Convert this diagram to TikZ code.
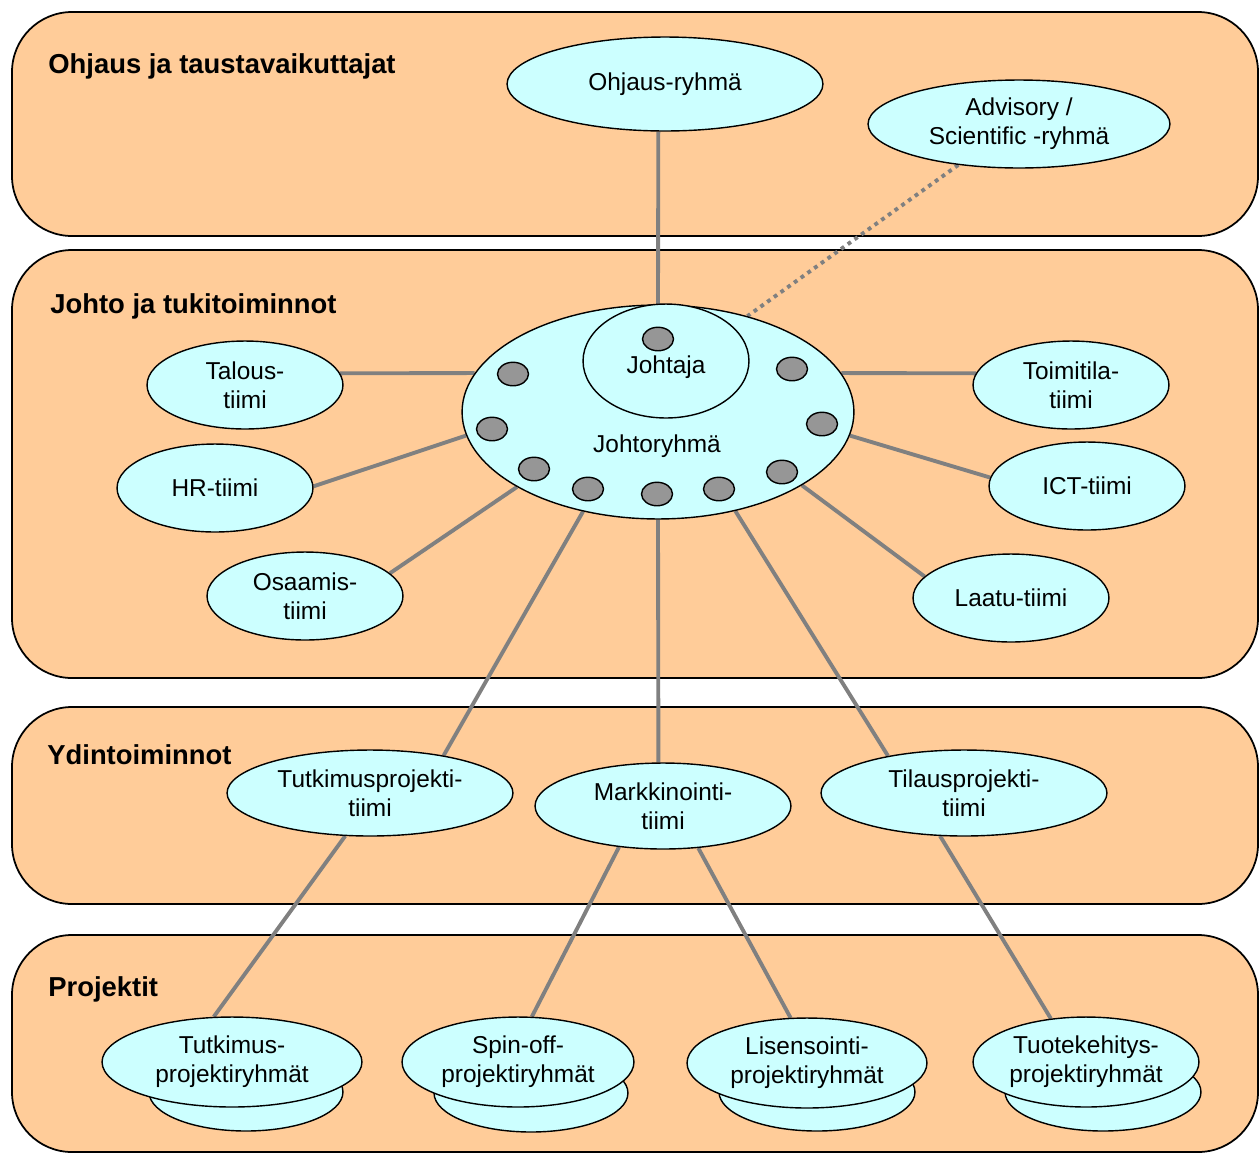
\documentclass[tikz,border=0pt]{standalone}
\usepackage{fontspec}
\setmainfont{Liberation Sans}
\usetikzlibrary{shapes.geometric}
\pgfdeclarelayer{bands}
\pgfdeclarelayer{links}
\pgfsetlayers{bands,links,main}
\definecolor{bandfill}{HTML}{FFCC99}
\definecolor{ovalfill}{HTML}{CCFFFF}
\definecolor{dotfill}{HTML}{969696}
\definecolor{linkgray}{HTML}{808080}
\newcommand{\bodysize}{\fontsize{13.9pt}{16.4pt}\selectfont}
\newcommand{\headsize}{\fontsize{15.6pt}{18pt}\selectfont\bfseries}

\begin{document}
\begin{tikzpicture}[x=0.02cm, y=-0.02cm,
  band/.style={draw=black, line width=1pt, fill=bandfill, rounded corners=1.2cm},
  heading/.style={anchor=base west, inner sep=0pt, font=\headsize},
  oval/.style 2 args={ellipse, draw=black, line width=0.8pt, fill=ovalfill,
    minimum width={#1*0.04cm}, minimum height={#2*0.04cm}, inner sep=0pt,
    align=center, font=\bodysize},
  member/.style={ellipse, draw=black, line width=0.8pt, fill=dotfill,
    minimum width=0.62cm, minimum height=0.47cm, inner sep=0pt},
  caption/.style={inner sep=0pt, font=\bodysize},
  link/.style={draw=linkgray, line width=2.2pt},
  dottedlink/.style={link, dash pattern=on 2.2pt off 2.5pt}]

\useasboundingbox (0,0) rectangle (1260,1154);

% the four layers of the organisation
\begin{pgfonlayer}{bands}
  \draw[band] (12,12)  rectangle (1258,236);
  \draw[band] (12,250) rectangle (1258,678);
  \draw[band] (12,707) rectangle (1258,904);
  \draw[band] (12,935) rectangle (1258,1152);
\end{pgfonlayer}

\node[heading] (h1) at (48,73)  {Ohjaus ja taustavaikuttajat};
\node[heading] (h2) at (50,313) {Johto ja tukitoiminnot};
\node[heading] (h3) at (47,764) {Ydintoiminnot};
\node[heading] (h4) at (48,996) {Projektit};

% steering
\node[oval={158}{47}] (ohj) at (665,84)  {Ohjaus-ryhmä};
\node[oval={151}{44}] (adv) at (1019,124) {Advisory /\\Scientific -ryhmä};

% management group with its members
\node[oval={196}{107}] (jr) at (658,412) {};
\node[oval={83}{57}]   (jt) at (666,361) {};
\node[caption] (jtlabel) at (666,367) {Johtaja};
\node[caption] (jrlabel) at (657,446) {Johtoryhmä};
\node[member] (m1)  at (658,339) {};
\node[member] (m2)  at (513,374) {};
\node[member] (m3)  at (792,369) {};
\node[member] (m4)  at (492,429) {};
\node[member] (m5)  at (822,424) {};
\node[member] (m6)  at (534,469) {};
\node[member] (m7)  at (782,472) {};
\node[member] (m8)  at (588,489) {};
\node[member] (m9)  at (657,494) {};
\node[member] (m10) at (719,489) {};

% support teams
\node[oval={98}{44}] (tal) at (245,385)  {Talous-\\tiimi};
\node[oval={98}{44}] (hr)  at (215,488)  {HR-tiimi};
\node[oval={98}{44}] (osa) at (305,596)  {Osaamis-\\tiimi};
\node[oval={98}{44}] (toi) at (1071,385) {Toimitila-\\tiimi};
\node[oval={98}{44}] (ict) at (1087,486) {ICT-tiimi};
\node[oval={98}{44}] (laa) at (1011,598) {Laatu-tiimi};

% core functions
\node[oval={143}{43}] (tp) at (370,793) {Tutkimusprojekti-\\tiimi};
\node[oval={128}{43}] (mk) at (663,806) {Markkinointi-\\tiimi};
\node[oval={143}{43}] (ti) at (964,793) {Tilausprojekti-\\tiimi};

% project groups: a second disc behind each one
\node[oval={97}{39}] (tprb) at (246,1092)  {};
\node[oval={97}{39}] (spib) at (531,1093)  {};
\node[oval={98}{39}] (lisb) at (817,1092)  {};
\node[oval={98}{39}] (tkb)  at (1103,1092) {};
\node[oval={130}{45}] (tpr) at (232,1062)  {Tutkimus-\\projektiryhmät};
\node[oval={116}{45}] (spi) at (518,1062)  {Spin-off-\\projektiryhmät};
\node[oval={120}{45}] (lis) at (807,1063)  {Lisensointi-\\projektiryhmät};
\node[oval={113}{45}] (tk)  at (1086,1062) {Tuotekehitys-\\projektiryhmät};

% connectors
\begin{pgfonlayer}{links}
  \draw[link] (ohj.262) -- (jr.90);
  \draw[dottedlink] (adv.214) -- (jr.47);
  \draw[link] (tal.7)   -- (jr.168);
  \draw[link] (hr.1)    -- (jr.187);
  \draw[link] (osa.15)  -- (jr.208);
  \draw[link] (toi.173) -- (jr.12);
  \draw[link] (ict.175) -- (jr.353);
  \draw[link] (laa.166) -- (jr.333);
  \draw[link] (jr.233)  -- (tp.27);
  \draw[link] (jr.270)  -- (mk.96);
  \draw[link] (jr.308)  -- (ti.154);
  \draw[link] (tp.240)  -- (tpr.112);
  \draw[link] (mk.223)  -- (spi.73);
  \draw[link] (mk.310)  -- (lis.110);
  \draw[link] (ti.241)  -- (tk.129);
\end{pgfonlayer}
\end{tikzpicture}
\end{document}
